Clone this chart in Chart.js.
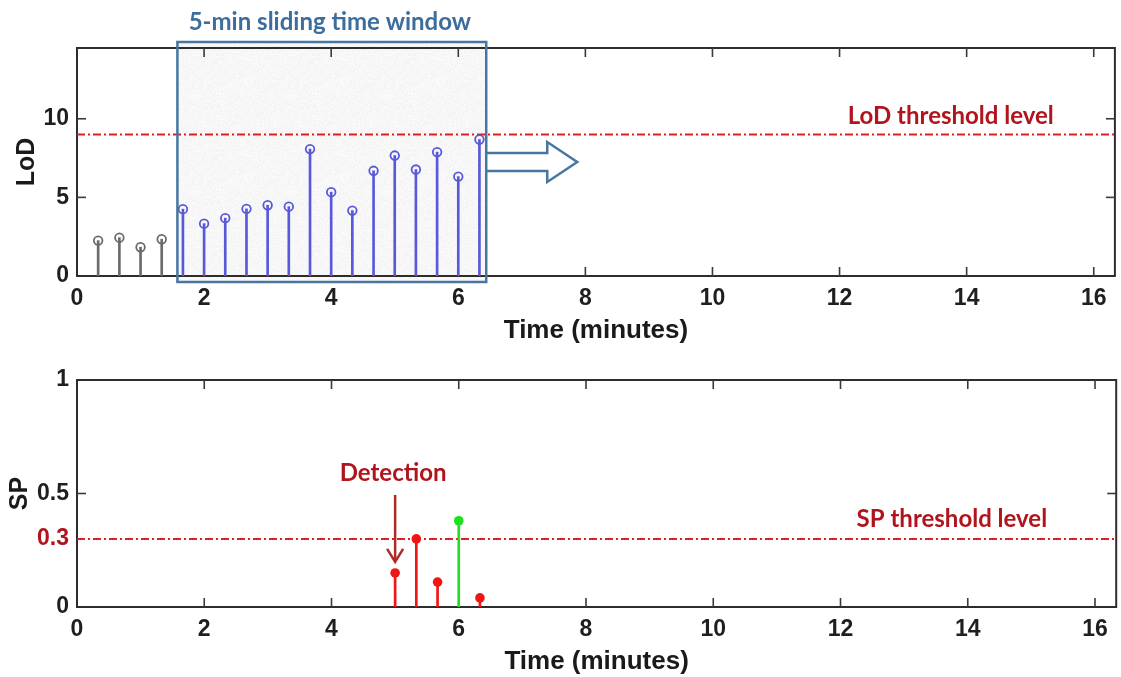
<!DOCTYPE html>
<html>
<head>
<meta charset="utf-8">
<title>LoD and SP over time</title>
<script src="https://cdn.jsdelivr.net/npm/chart.js@4.4.1/dist/chart.umd.min.js"></script>
<style>
  html, body { margin: 0; padding: 0; background: #ffffff; }
  #wrap { position: relative; width: 1121px; height: 677px; overflow: hidden; }
  canvas { position: absolute; left: 0; }
</style>
</head>
<body>
<div id="wrap">
  <canvas id="lodChart" width="1121" height="346" style="top:0"></canvas>
  <canvas id="spChart" width="1121" height="331" style="top:346px"></canvas>
</div>
<script>
// ---- data ----
const xMax = 16.333;
const xTickValues = [0, 2, 4, 6, 8, 10, 12, 14, 16];
const lodTickValues = [0, 5, 10];
const spTickValues = [0, 0.5, 1];
const spMarkedValue = 0.3;

const lodTimes = [0.333, 0.667, 1, 1.333, 1.667, 2, 2.333, 2.667, 3, 3.333,
                  3.667, 4, 4.333, 4.667, 5, 5.333, 5.667, 6, 6.333];
const lodValues = [2.25, 2.44, 1.83, 2.34, 4.25, 3.33, 3.68, 4.27, 4.50, 4.41,
                   8.07, 5.33, 4.16, 6.69, 7.66, 6.77, 7.88, 6.32, 8.68];
const lodThreshold = 9;
const windowRange = [1.58, 6.44];

const spTimes = [5, 5.333, 5.667, 6, 6.333];
const spValues = [0.15, 0.30, 0.11, 0.38, 0.04];
const spThreshold = 0.3;

// ---- styling ----
const AXIS_FONT = "'Liberation Sans', Arial, sans-serif";
const NOTE_FONT = "Lato, 'Open Sans', sans-serif";
const INK = '#1f1f1f';
const GRAY = '#6b6b6b';
const BLUE = '#5858da';
const RED = '#f01414';
const GREEN = '#1fdf1f';
const THRESH = '#e31b23';
const NOTE_RED = '#b0141c';
const STEEL = '#4876a2';
const STEEL_TEXT = '#3d6d9c';
const DASH = [8, 3, 2, 3];

Chart.defaults.font.family = AXIS_FONT;
Chart.defaults.color = INK;

const lodColors = lodTimes.map(t => (t >= windowRange[0] ? BLUE : GRAY));
const spColors = spValues.map(v => (v > spThreshold ? GREEN : RED));

// light grainy fill used for the sliding window
function grainPattern(ctx) {
  const c = document.createElement('canvas');
  c.width = 96; c.height = 96;
  const g = c.getContext('2d');
  const img = g.createImageData(96, 96);
  let s = 12345;
  for (let i = 0; i < img.data.length; i += 4) {
    s = (s * 1103515245 + 12345) & 0x7fffffff;
    const v = 243 + (s % 10);
    img.data[i] = v; img.data[i + 1] = v; img.data[i + 2] = v; img.data[i + 3] = 255;
  }
  g.putImageData(img, 0, 0);
  return ctx.createPattern(c, 'repeat');
}

function seg(ctx, x1, y1, x2, y2) {
  ctx.beginPath(); ctx.moveTo(x1, y1); ctx.lineTo(x2, y2); ctx.stroke();
}

// box frame with inward ticks on all four sides
const framePlugin = {
  id: 'frame',
  beforeDatasetsDraw(chart, args, opts) {
    const { ctx, chartArea: a, scales: { x, y } } = chart;
    ctx.save();
    if (opts.drawWindow) {
      const l = x.getPixelForValue(windowRange[0]);
      const r = x.getPixelForValue(windowRange[1]);
      ctx.fillStyle = grainPattern(ctx);
      ctx.fillRect(l, a.top - 6, r - l, a.bottom - a.top + 12);
    }
    ctx.strokeStyle = '#2d2d2d';
    ctx.lineWidth = 2;
    ctx.strokeRect(a.left, a.top, a.right - a.left, a.bottom - a.top);
    ctx.strokeStyle = '#3a3a3a';
    ctx.lineWidth = 1.6;
    const L = 9;
    xTickValues.forEach(v => {
      const px = x.getPixelForValue(v);
      if (px <= a.left + 1) return;
      seg(ctx, px, a.bottom, px, a.bottom - L);
      seg(ctx, px, a.top, px, a.top + L);
    });
    opts.yTicks.forEach(v => {
      const py = y.getPixelForValue(v);
      if (py >= a.bottom - 1 || py <= a.top + 1) return;
      seg(ctx, a.left, py, a.left + L, py);
      seg(ctx, a.right, py, a.right - L, py);
    });
    ctx.restore();
  }
};

// annotations for the LoD panel
const lodNotes = {
  id: 'lodNotes',
  afterDatasetsDraw(chart) {
    const { ctx, chartArea: a, scales: { x, y } } = chart;
    ctx.save();
    const l = x.getPixelForValue(windowRange[0]);
    const r = x.getPixelForValue(windowRange[1]);
    const top = a.top - 6, bottom = a.bottom + 6;
    ctx.strokeStyle = STEEL;
    ctx.lineWidth = 2.5;
    ctx.strokeRect(l, top, r - l, bottom - top);

    // hollow arrow showing the window sliding forward
    const cy = y.getPixelForValue(7.25);
    const base = r + 61, tip = r + 91;
    ctx.beginPath();
    ctx.moveTo(r, cy - 9);
    ctx.lineTo(base, cy - 9);
    ctx.lineTo(base, cy - 20);
    ctx.lineTo(tip, cy);
    ctx.lineTo(base, cy + 20);
    ctx.lineTo(base, cy + 9);
    ctx.lineTo(r, cy + 9);
    ctx.lineJoin = 'miter';
    ctx.stroke();

    ctx.textAlign = 'center';
    ctx.textBaseline = 'middle';
    ctx.font = `bold 24px ${NOTE_FONT}`;
    ctx.fillStyle = STEEL_TEXT;
    ctx.fillText('5-min sliding time window', (l + r) / 2 - 2, top - 20);

    ctx.fillStyle = NOTE_RED;
    ctx.fillText('LoD threshold level', x.getPixelForValue(13.75), y.getPixelForValue(lodThreshold) - 18);
    ctx.restore();
  }
};

// annotations for the SP panel
const spNotes = {
  id: 'spNotes',
  afterDatasetsDraw(chart) {
    const { ctx, scales: { x, y } } = chart;
    ctx.save();
    ctx.textAlign = 'center';
    ctx.textBaseline = 'middle';
    ctx.font = `bold 24px ${NOTE_FONT}`;
    ctx.fillStyle = NOTE_RED;
    ctx.fillText('SP threshold level', x.getPixelForValue(13.75), y.getPixelForValue(spThreshold) - 20);

    const px = x.getPixelForValue(spTimes[0]);
    const tipY = y.getPixelForValue(spValues[0]) - 11;
    ctx.fillText('Detection', px - 2, tipY - 89);
    ctx.strokeStyle = '#b02a2a';
    ctx.lineWidth = 2.5;
    seg(ctx, px, tipY - 67, px, tipY - 1);
    ctx.beginPath();
    ctx.moveTo(px - 8, tipY - 13);
    ctx.lineTo(px, tipY);
    ctx.lineTo(px + 8, tipY - 13);
    ctx.stroke();
    ctx.restore();
  }
};

function xScale() {
  return {
    type: 'linear',
    min: 0,
    max: xMax,
    offset: false,
    grid: { display: false, drawTicks: false },
    border: { display: false },
    afterBuildTicks: s => { s.ticks = xTickValues.map(v => ({ value: v })); },
    afterFit: s => { s.height = 70; },
    ticks: {
      padding: 9,
      color: INK,
      font: { size: 23, weight: 'bold' },
      callback: v => String(v)
    },
    title: {
      display: true,
      text: 'Time (minutes)',
      color: '#1a1a1a',
      font: { size: 26, weight: 'bold' },
      padding: { top: 0, bottom: 0 }
    }
  };
}

function yScale(opts) {
  return {
    type: 'linear',
    min: 0,
    max: opts.max,
    grid: { display: false, drawTicks: false },
    border: { display: false },
    afterBuildTicks: s => { s.ticks = opts.ticks.map(v => ({ value: v })); },
    afterFit: s => { s.width = 77; },
    ticks: {
      padding: 8,
      font: { size: 23, weight: 'bold' },
      color: c => (c.tick && c.tick.value === spMarkedValue ? NOTE_RED : INK),
      callback: v => String(v)
    },
    title: {
      display: true,
      text: opts.title,
      color: '#1a1a1a',
      font: { size: 25, weight: 'bold' },
      padding: { top: opts.titlePad, bottom: 0 }
    }
  };
}

const common = {
  responsive: false,
  animation: false,
  devicePixelRatio: 1,
  events: [],
  plugins: { legend: { display: false }, tooltip: { enabled: false } }
};

new Chart(document.getElementById('lodChart'), {
  type: 'bar',
  data: {
    datasets: [
      {
        type: 'line',
        data: lodTimes.map((t, i) => ({ x: t, y: lodValues[i] })),
        showLine: false,
        pointRadius: 4.3,
        pointBorderWidth: 1.8,
        pointBorderColor: lodColors,
        pointBackgroundColor: 'rgba(0,0,0,0)'
      },
      {
        type: 'bar',
        data: lodTimes.map((t, i) => ({ x: t, y: lodValues[i] })),
        backgroundColor: lodColors,
        barThickness: 2,
        borderWidth: 0
      },
      {
        type: 'line',
        data: [{ x: 0, y: lodThreshold }, { x: xMax, y: lodThreshold }],
        borderColor: THRESH,
        borderWidth: 2,
        borderDash: DASH,
        pointRadius: 0
      }
    ]
  },
  options: {
    ...common,
    layout: { padding: { top: 48, right: 2.5, left: 0, bottom: 0 } },
    scales: {
      x: xScale(),
      y: yScale({ max: 14.5, ticks: lodTickValues, title: 'LoD', titlePad: 12 })
    },
    plugins: { ...common.plugins, frame: { yTicks: lodTickValues, drawWindow: true } }
  },
  plugins: [framePlugin, lodNotes]
});

new Chart(document.getElementById('spChart'), {
  type: 'bar',
  data: {
    datasets: [
      {
        type: 'line',
        data: spTimes.map((t, i) => ({ x: t, y: spValues[i] })),
        showLine: false,
        pointRadius: 4.8,
        pointBorderWidth: 0,
        pointBackgroundColor: spColors
      },
      {
        type: 'bar',
        data: spTimes.map((t, i) => ({ x: t, y: spValues[i] })),
        backgroundColor: spColors,
        barThickness: 2,
        borderWidth: 0
      },
      {
        type: 'line',
        data: [{ x: 0, y: spThreshold }, { x: xMax, y: spThreshold }],
        borderColor: THRESH,
        borderWidth: 2,
        borderDash: DASH,
        pointRadius: 0
      }
    ]
  },
  options: {
    ...common,
    layout: { padding: { top: 34, right: 2.5, left: 0, bottom: 0 } },
    scales: {
      x: xScale(),
      y: yScale({ max: 1, ticks: [0, spMarkedValue, 0.5, 1], title: 'SP', titlePad: 5.5 })
    },
    plugins: { ...common.plugins, frame: { yTicks: spTickValues, drawWindow: false } }
  },
  plugins: [framePlugin, spNotes]
});
</script>
</body>
</html>
